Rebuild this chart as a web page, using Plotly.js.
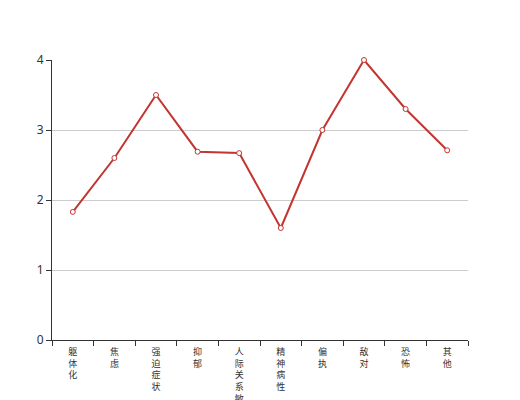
<!DOCTYPE html>
<html>
<head>
<meta charset="utf-8">
<script src="https://cdn.plot.ly/plotly-3.0.1.min.js"></script>
<style>html,body{margin:0;padding:0;background:#fff;}#chart{width:520px;height:400px;}</style>
</head>
<body>
<div id="chart"></div>
<script>
var categories = ["躯体化", "焦虑", "强迫症状", "抑郁", "人际关系敏感", "精神病性", "偏执", "敌对", "恐怖", "其他"];
var values = [1.83, 2.6, 3.5, 2.69, 2.67, 1.6, 3.0, 4.0, 3.3, 2.71];
var yTicks = [0, 1, 2, 3, 4];

var lineColor = "#c23531";
var trace = {
  x: categories,
  y: values,
  type: "scatter",
  mode: "lines+markers",
  cliponaxis: false,
  line: {color: lineColor, width: 2},
  marker: {symbol: "circle", size: 5, color: "#ffffff", line: {color: lineColor, width: 1}},
  hoverinfo: "x+y"
};

var layout = {
  width: 520, height: 400,
  margin: {l: 52, r: 52, t: 60, b: 60, pad: 0},
  paper_bgcolor: "#fff", plot_bgcolor: "#fff",
  showlegend: false,
  xaxis: {
    type: "category",
    range: [-0.5, categories.length - 0.5],
    tickson: "boundaries",
    ticks: "outside", ticklen: 5, tickcolor: "#333",
    tickvals: categories,
    ticktext: categories.map(function (c) { return Array.from(c).join("<br>"); }),
    tickangle: 0,
    ticklabelstandoff: 3,
    tickfont: {family: "Noto Sans CJK SC, sans-serif", size: 9, color: "#333"},
    automargin: false,
    showline: true, linecolor: "#333", linewidth: 1,
    showgrid: false, zeroline: false, fixedrange: true
  },
  yaxis: {
    range: [0, 4],
    tickvals: yTicks,
    ticktext: yTicks.map(String),
    ticks: "outside", ticklen: 5, tickcolor: "#333",
    tickfont: {family: "Noto Sans, sans-serif", size: 12, color: "#333"},
    automargin: false,
    showline: true, linecolor: "#333", linewidth: 1,
    showgrid: true, gridcolor: "#ccc", gridwidth: 1,
    zeroline: false, fixedrange: true
  }
};

Plotly.newPlot("chart", [trace], layout, {displayModeBar: false});
</script>
</body>
</html>
